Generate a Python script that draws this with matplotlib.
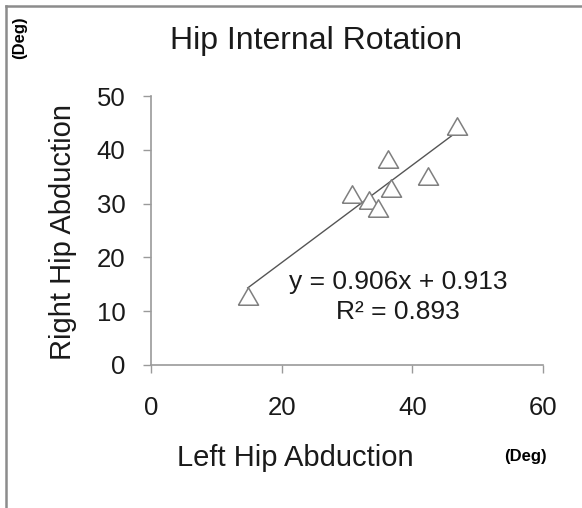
import numpy
import matplotlib

matplotlib.use("AGG")
from matplotlib import pyplot
from matplotlib.lines import Line2D

# data
left_hip = [14.8, 30.8, 33.3, 34.8, 36.3, 36.7, 42.4, 46.9]
right_hip = [12.8, 31.8, 30.6, 29.2, 38.3, 32.9, 35.1, 44.4]
slope = 0.906
intercept = 0.913
r_squared = 0.893
x_ticks = [0, 20, 40, 60]
y_ticks = [0, 10, 20, 30, 40, 50]

pyplot.rcParams["font.family"] = ["Liberation Sans", "DejaVu Sans"]

f = pyplot.figure(figsize=(5.82, 5.08), dpi=100)
ax = f.add_axes([151 / 582, 1 - 365 / 508, 392 / 582, 269 / 508])

# equilateral open triangle marker
tri = [(-1, -0.866), (1, -0.866), (0, 0.866), (-1, -0.866)]
ax.plot(left_hip, right_hip, linestyle="none", marker=tri, markersize=14.5,
        markerfacecolor="white", markeredgecolor="#7f7f7f", markeredgewidth=1.1,
        zorder=3)

fit_x = numpy.array([min(left_hip), max(left_hip)])
ax.plot(fit_x, slope * fit_x + intercept, color="#555555", linewidth=1.0, zorder=2)

ax.set_xlim(0, 60)
ax.set_ylim(0, 50)
ax.set_xticks(x_ticks)
ax.set_yticks(y_ticks)

for side in ["top", "right"]:
    ax.spines[side].set_visible(False)
for side in ["left", "bottom"]:
    ax.spines[side].set_color("#9a9a9a")
    ax.spines[side].set_linewidth(1.2)

ax.tick_params(axis="both", direction="out", length=6, width=1.0,
               color="#9a9a9a", labelsize=18.5, labelcolor="#1a1a1a")
ax.tick_params(axis="y", pad=12.5)
ax.tick_params(axis="x", pad=16.5)

ax.text(0.63, 0.31, "y = %.3fx + %.3f" % (slope, intercept),
        transform=ax.transAxes, ha="center", va="center", fontsize=19,
        color="#1a1a1a")
ax.text(0.63, 0.198, "R² = %.3f" % r_squared,
        transform=ax.transAxes, ha="center", va="center", fontsize=19,
        color="#1a1a1a")

f.text(316 / 582, 1 - 41 / 508, "Hip Internal Rotation", ha="center",
       va="center", fontsize=23, color="#1a1a1a")
f.text(295 / 582, 1 - 458 / 508, "Left Hip Abduction", ha="center",
       va="center", fontsize=21, color="#1a1a1a")
f.text(63 / 582, 1 - 232 / 508, "Right Hip Abduction", ha="center",
       va="center", rotation=90, fontsize=21, color="#1a1a1a")
f.text(525 / 582, 1 - 457 / 508, "(Deg)", ha="center", va="center",
       fontsize=12, fontweight="bold", color="black")
f.text(20 / 582, 1 - 38 / 508, "(Deg)", ha="center", va="center",
       rotation=90, fontsize=12, fontweight="bold", color="black")

# gray frame on left and top edge
f.add_artist(Line2D([6 / 582, 6 / 582], [0, 1 - 6 / 508], color="#8c8c8c",
                    linewidth=1.8, transform=f.transFigure))
f.add_artist(Line2D([6 / 582, 1], [1 - 6 / 508, 1 - 6 / 508], color="#8c8c8c",
                    linewidth=1.8, transform=f.transFigure))

f.savefig("out.png", dpi=100)
pyplot.close()
